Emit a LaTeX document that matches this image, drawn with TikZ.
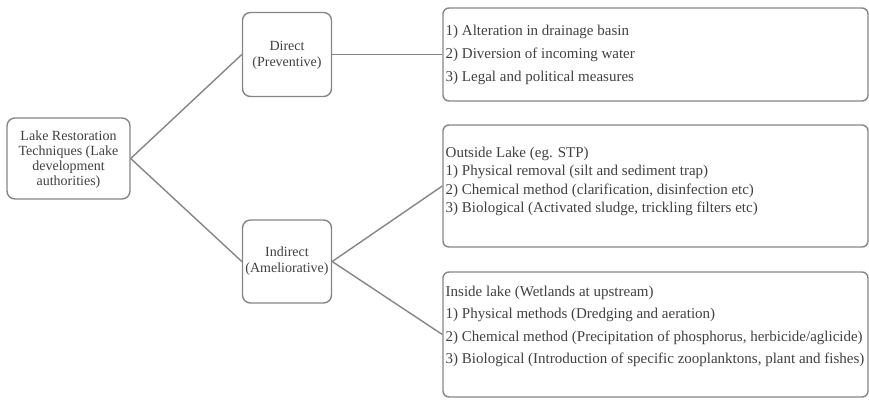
\documentclass[tikz,border=0pt]{standalone}
\usepackage{fontspec}
\setmainfont{Liberation Serif}
\begin{document}
\begin{tikzpicture}[x=1pt,y=-1pt,
  line width=1.4pt,
  every node/.style={text=black!75},
  box/.style={draw=black!48, rounded corners=8pt, inner sep=0pt},
  listbox/.style={draw=black!48, rounded corners=6pt, inner sep=0pt,
    minimum width=425pt},
  boxtext/.style={align=center, font=\fontsize{14}{15}\selectfont},
  listtext/.style={anchor=base west, inner sep=0pt, font=\fontsize{15}{18}\selectfont},
  link/.style={draw=black!48}]
\useasboundingbox (0,0) rectangle (869,400);

% left column
\node[box, minimum width=123pt, minimum height=81pt] (root) at (68.5,158.5) {};
\node[boxtext] (roottxt) at (68.5,159.5) {Lake Restoration\\Techniques (Lake\\development\\authorities)};

% middle column
\node[box, minimum width=89pt, minimum height=84pt] (dir) at (287,54.5) {};
\node[boxtext, font=\fontsize{14}{16}\selectfont] (dirtxt) at (287,55) {Direct\\(Preventive)};
\node[box, minimum width=89pt, minimum height=83pt] (ind) at (287,261.5) {};
\node[boxtext, font=\fontsize{14}{16}\selectfont] (indtxt) at (287,261.5) {Indirect\\(Ameliorative)};

% right column: boxes
\node[listbox, minimum height=93pt] (dlist) at (655.5,54.5) {};
\node[listbox, minimum height=122pt] (out) at (655.5,186) {};
\node[listbox, minimum height=125pt] (ins) at (655.5,334.5) {};

% right column: one node per printed line
\foreach \t [count=\i] in {{1) Alteration in drainage basin},
    {2) Diversion of incoming water},
    {3) Legal and political measures}}
  \node[listtext] (dl\i) at (445,{35.7+(\i-1)*22.8}) {\t};

\foreach \t [count=\i] in {{Outside Lake (eg. STP)},
    {1) Physical removal (silt and sediment trap)},
    {2) Chemical method (clarification, disinfection etc)},
    {3) Biological (Activated sludge, trickling filters etc)}}
  \node[listtext] (ol\i) at (445,{157+(\i-1)*18.6}) {\t};

\foreach \t [count=\i] in {{Inside lake (Wetlands at upstream)},
    {1) Physical methods (Dredging and aeration)},
    {2) Chemical method (Precipitation of phosphorus, herbicide/aglicide)},
    {3) Biological (Introduction of specific zooplanktons, plant and fishes)}}
  \node[listtext] (il\i) at (445,{296+(\i-1)*22.5}) {\t};

% connectors
\draw[link] (root.east) -- (dir.west);
\draw[link] (root.east) -- (ind.west);
\draw[link] (dir.east) -- (dlist.west);
\draw[link] (ind.east) -- (out.west);
\draw[link] (ind.east) -- (ins.west);
\end{tikzpicture}
\end{document}
